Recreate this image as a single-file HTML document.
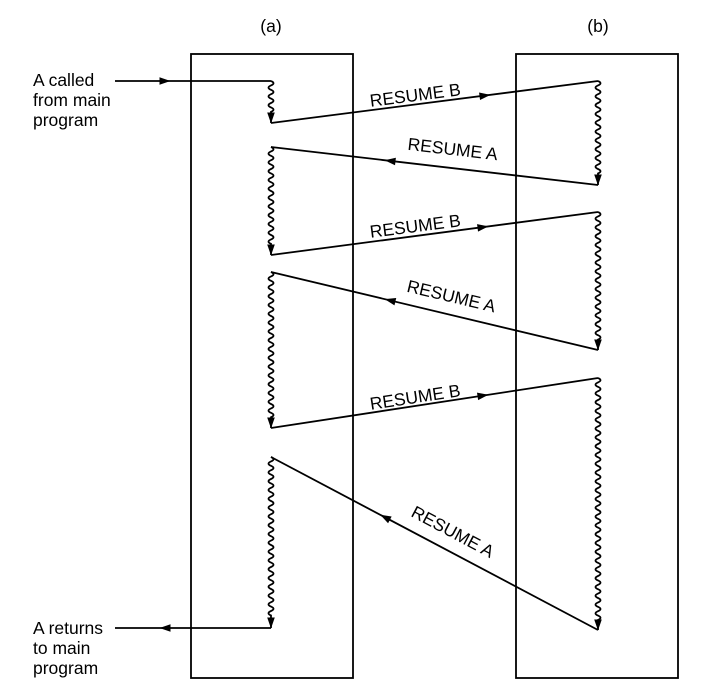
<!DOCTYPE html>
<html><head><meta charset="utf-8"><style>
body{margin:0;background:#fff}
svg{display:block}
text{font-family:"Liberation Sans",Arial,sans-serif;font-size:17.5px;fill:#000}
</style></head><body>
<svg id="s" width="707" height="695" viewBox="0 0 707 695">
<rect x="191" y="54" width="162" height="624" fill="none" stroke="#000" stroke-width="1.8"/>
<rect x="516" y="54" width="162" height="624" fill="none" stroke="#000" stroke-width="1.8"/>
<text x="271" y="32" text-anchor="middle">(a)</text>
<text x="598" y="32" text-anchor="middle">(b)</text>
<text x="33" y="86">A called</text>
<text x="33" y="106">from main</text>
<text x="33" y="126">program</text>
<text x="33" y="634">A returns</text>
<text x="33" y="654">to main</text>
<text x="33" y="674">program</text>
<g id="g" fill="none" stroke="#000" stroke-width="1.8"></g>
<g id="h" fill="#000"></g>
<text transform="translate(416,101) rotate(-7.3)" text-anchor="middle">RESUME B</text>
<text transform="translate(452,155) rotate(6.6)" text-anchor="middle">RESUME A</text>
<text transform="translate(416,232) rotate(-7.3)" text-anchor="middle">RESUME B</text>
<text transform="translate(450,302) rotate(13.4)" text-anchor="middle">RESUME A</text>
<text transform="translate(416,403) rotate(-8.7)" text-anchor="middle">RESUME B</text>
<text transform="translate(450,537) rotate(27.9)" text-anchor="middle">RESUME A</text>
</svg>
<script>
var g=document.getElementById('g'),h=document.getElementById('h'),NS='http://www.w3.org/2000/svg';
function P(d){var p=document.createElementNS(NS,'path');p.setAttribute('d',d);g.appendChild(p);}
function arrow(x,y,dx,dy){var l=Math.hypot(dx,dy);dx/=l;dy/=l;var L=11,W=3.8;
var p=document.createElementNS(NS,'path');
p.setAttribute('d','M'+(x+dx*L/2)+','+(y+dy*L/2)+'L'+(x-dx*L/2-dy*W)+','+(y-dy*L/2+dx*W)+'L'+(x-dx*L/2+dy*W)+','+(y-dy*L/2-dx*W)+'Z');h.appendChild(p);}
function zig(x,y1,y2){var d='M'+x+','+y1,y=y1,s=1;var end=y2-10;
while(y+4<end){d+=' Q'+(x+5*s)+','+(y+2.2)+' '+x+','+(y+4.4);y+=4.4;s=-s;}
d+=' L'+x+','+y2;P(d);arrow(x,y2-5,0,1);}
function line(x1,y1,x2,y2,ax){P('M'+x1+','+y1+'L'+x2+','+y2);var t=(ax-x1)/(x2-x1);arrow(ax,y1+t*(y2-y1),x2-x1,y2-y1);}
line(115,81,271,81,165);
zig(271,81,123);line(271,123,598,81,485);
zig(598,81,185);line(598,185,271,147,390);
zig(271,147,255);line(271,255,598,212,483);
zig(598,212,350);line(598,350,271,272,390);
zig(271,272,428);line(271,428,598,378,483);
zig(598,378,630);line(598,630,271,457,385);
zig(271,457,628);line(271,628,115,628,165);
</script>
</body></html>
